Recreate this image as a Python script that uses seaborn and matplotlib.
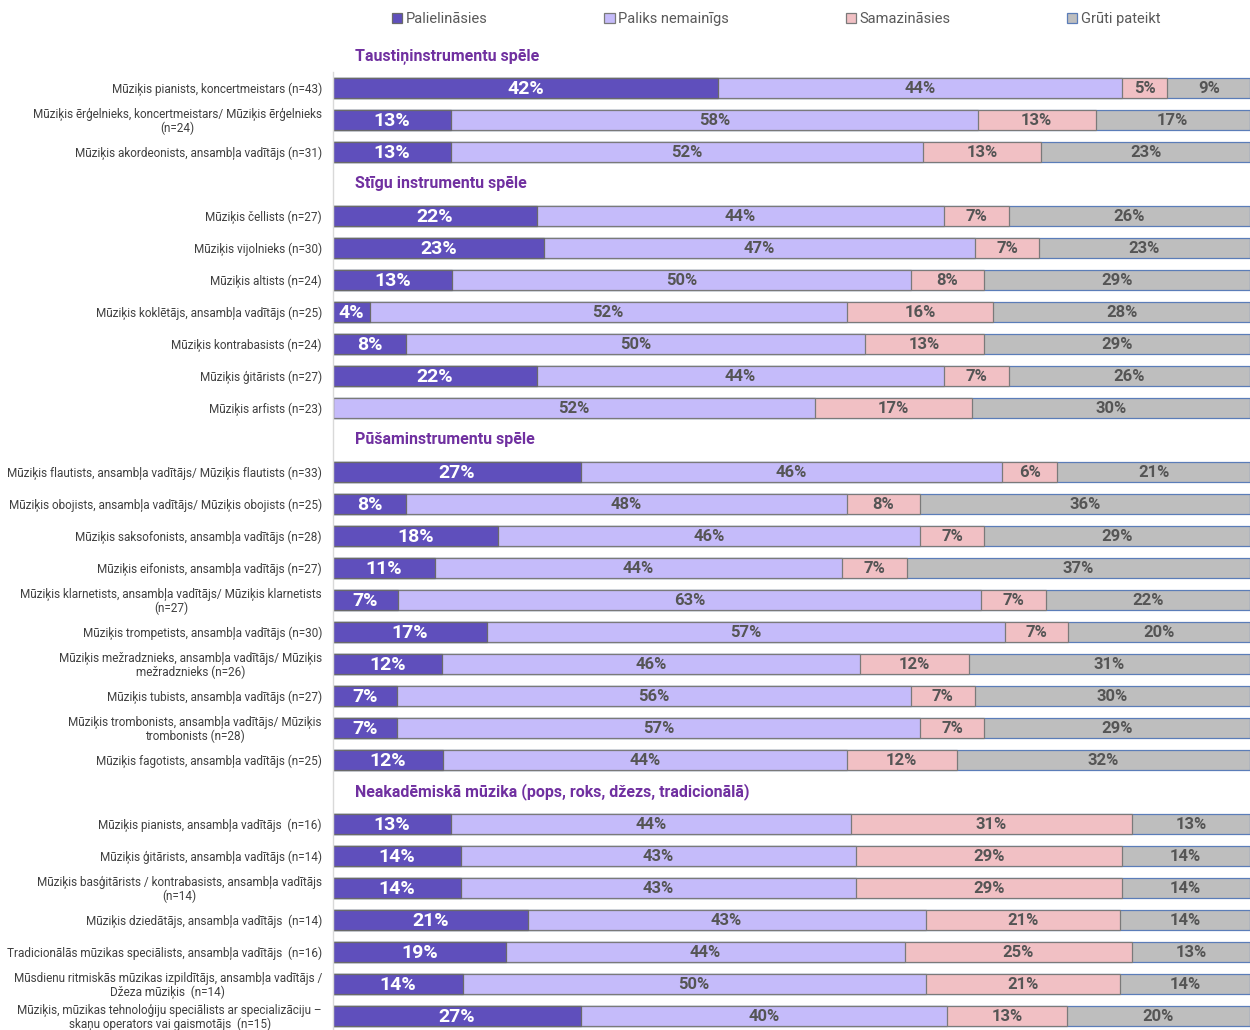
import numpy as np
import pandas as pd
import matplotlib
matplotlib.use("Agg")
import matplotlib.pyplot as plt
import seaborn as sns
from matplotlib.patches import Patch

# grupas un rindu skaits katrā grupā
sections = ["Taustiņinstrumentu spēle", "Stīgu instrumentu spēle",
            "Pūšaminstrumentu spēle",
            "Neakadēmiskā mūzika (pops, roks, džezs, tradicionālā)"]
section_sizes = [3, 7, 10, 7]

labels = [
    "Mūziķis pianists, koncertmeistars (n=43)",
    "Mūziķis ērģelnieks, koncertmeistars/ Mūziķis ērģelnieks\n(n=24)",
    "Mūziķis akordeonists, ansambļa vadītājs (n=31)",
    "Mūziķis čellists (n=27)",
    "Mūziķis vijolnieks (n=30)",
    "Mūziķis altists (n=24)",
    "Mūziķis koklētājs, ansambļa vadītājs (n=25)",
    "Mūziķis kontrabasists (n=24)",
    "Mūziķis ģitārists (n=27)",
    "Mūziķis arfists (n=23)",
    "Mūziķis flautists, ansambļa vadītājs/ Mūziķis flautists (n=33)",
    "Mūziķis obojists, ansambļa vadītājs/ Mūziķis obojists (n=25)",
    "Mūziķis saksofonists, ansambļa vadītājs (n=28)",
    "Mūziķis eifonists, ansambļa vadītājs (n=27)",
    "Mūziķis klarnetists, ansambļa vadītājs/ Mūziķis klarnetists\n(n=27)",
    "Mūziķis trompetists, ansambļa vadītājs (n=30)",
    "Mūziķis mežradznieks, ansambļa vadītājs/ Mūziķis\nmežradznieks (n=26)",
    "Mūziķis tubists, ansambļa vadītājs (n=27)",
    "Mūziķis trombonists, ansambļa vadītājs/ Mūziķis\ntrombonists (n=28)",
    "Mūziķis fagotists, ansambļa vadītājs (n=25)",
    "Mūziķis pianists, ansambļa vadītājs  (n=16)",
    "Mūziķis ģitārists, ansambļa vadītājs (n=14)",
    "Mūziķis basģitārists / kontrabasists, ansambļa vadītājs\n(n=14)",
    "Mūziķis dziedātājs, ansambļa vadītājs  (n=14)",
    "Tradicionālās mūzikas speciālists, ansambļa vadītājs  (n=16)",
    "Mūsdienu ritmiskās mūzikas izpildītājs, ansambļa vadītājs /\nDžeza mūziķis  (n=14)",
    "Mūziķis, mūzikas tehnoloģiju speciālists ar specializāciju –\nskaņu operators vai gaismotājs  (n=15)",
]

increase = [42, 13, 13, 22, 23, 13, 4, 8, 22, 0, 27, 8, 18, 11, 7, 17, 12, 7, 7, 12,
            13, 14, 14, 21, 19, 14, 27]
same = [44, 58, 52, 44, 47, 50, 52, 50, 44, 52, 46, 48, 46, 44, 63, 57, 46, 56, 57, 44,
        44, 43, 43, 43, 44, 50, 40]
decrease = [5, 13, 13, 7, 7, 8, 16, 13, 7, 17, 6, 8, 7, 7, 7, 7, 12, 7, 7, 12,
            31, 29, 29, 21, 25, 21, 13]
hard = [9, 17, 23, 26, 23, 29, 28, 29, 26, 30, 21, 36, 29, 37, 22, 20, 31, 30, 29, 32,
        13, 14, 14, 14, 13, 14, 20]

legend_names = ["Palielināsies", "Paliks nemainīgs", "Samazināsies", "Grūti pateikt"]
colors = ["#5F4FBC", "#C5BBFA", "#F1C0C4", "#BEBEBE"]
edges = ["#6A6A6A", "#7A7A7A", "#7A7A7A", "#5B7DB8"]

sns.set_theme(style="white")
plt.rcParams["font.family"] = ["Roboto", "DejaVu Sans"]

# rindu pozīcijas (virsraksti aizņem vienu rindu)
pos, header_pos = [], []
p = 0
for n in section_sizes:
    header_pos.append(p)
    p += 1
    for _ in range(n):
        pos.append(p)
        p += 1

df = pd.DataFrame({"label": labels, "pos": pos, "v1": increase, "v2": same,
                   "v3": decrease, "v4": hard})
total = df[["v1", "v2", "v3", "v4"]].sum(axis=1)
for c in ["v1", "v2", "v3", "v4"]:
    df["p" + c[1]] = df[c] / total * 100
df["c1"] = df["p1"]
df["c2"] = df["c1"] + df["p2"]
df["c3"] = df["c2"] + df["p3"]
df["c4"] = df["c3"] + df["p4"]

fig = plt.figure(figsize=(12.5, 10.3), dpi=100)
ax = fig.add_axes([0.2664, 0.0, 0.7336, 0.9301])

# kumulatīvie slāņi no aizmugures uz priekšu
for k in [4, 3, 2, 1]:
    sns.barplot(data=df, x="c%d" % k, y="pos", orient="y", native_scale=True,
                width=0.6, color=colors[k - 1], saturation=1, errorbar=None,
                edgecolor=edges[k - 1], linewidth=0.9, ax=ax)

ax.set_xlim(0, 100)
ax.set_ylim(30.44, 0.5)
ax.set_xticks([])
ax.set_xlabel("")
ax.set_ylabel("")
ax.set_yticks(pos)
ax.set_yticklabels(labels, fontsize=8.5, color="#404040")
for t in ax.get_yticklabels():
    t.set_multialignment("center")
    t.set_linespacing(1.0)
ax.tick_params(axis="y", length=0, pad=8)
for s in ["top", "right", "bottom"]:
    ax.spines[s].set_visible(False)
ax.spines["left"].set_color("#D9D9D9")
ax.spines["left"].set_linewidth(1)

# grupu virsraksti
for name, hp in zip(sections, header_pos):
    ax.text(2.4, hp, name, ha="left", va="center", fontsize=11.5, fontweight="bold",
            color="#7030A0", clip_on=False)

# vērtību etiķetes
for _, r in df.iterrows():
    for k in range(1, 5):
        v = r["v%d" % k]
        if v <= 0:
            continue
        x = r["c%d" % k] - r["p%d" % k] / 2
        if k == 1:
            ax.text(x, r["pos"] + 0.03, f"{int(v)}%", ha="center", va="center",
                    fontsize=14, fontweight="bold", color="white")
        else:
            ax.text(x, r["pos"] + 0.03, f"{int(v)}%", ha="center", va="center",
                    fontsize=12, fontweight="bold", color="#555555")

handles = [Patch(facecolor=colors[i], edgecolor=edges[i], linewidth=0.9)
           for i in range(4)]
fig.legend(handles, legend_names, loc="upper center", bbox_to_anchor=(0.621, 1.001),
           ncol=4, frameon=False, handlelength=0.7, handleheight=0.7,
           handletextpad=0.25, columnspacing=8.0,
           prop={"size": 10.5}, labelcolor="#595959")

fig.savefig("out.png", dpi=100)
